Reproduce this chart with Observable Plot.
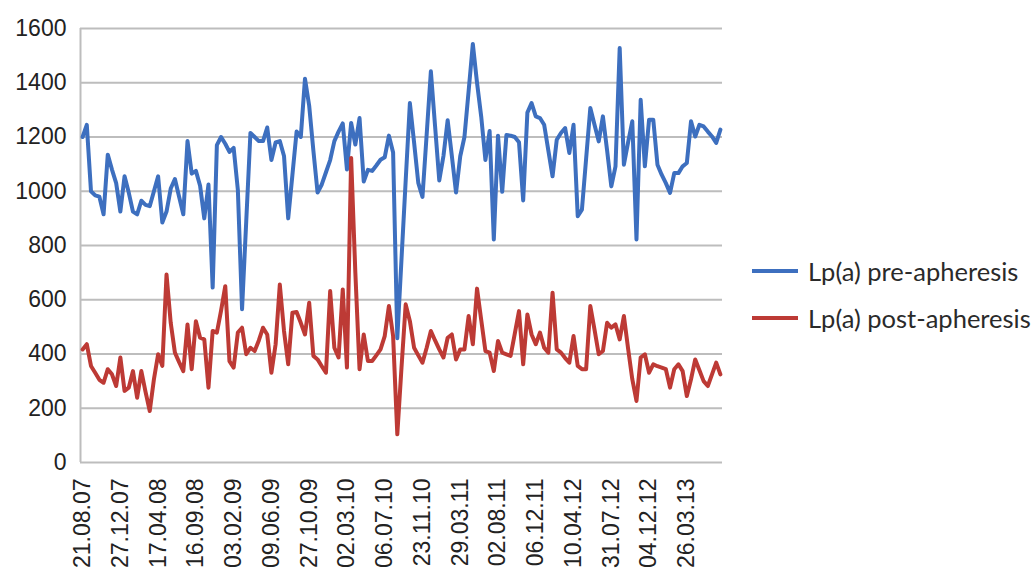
<!DOCTYPE html>
<html>
<head>
<meta charset="utf-8">
<script src="https://cdn.jsdelivr.net/npm/d3@7"></script>
<script src="https://cdn.jsdelivr.net/npm/@observablehq/plot@0.6"></script>
<style>
  html, body { margin: 0; padding: 0; background: #fff; overflow: hidden; }
  #wrap { position: relative; width: 1035px; height: 575px; overflow: hidden; }
  #chart { position: absolute; left: 0; top: 0; }
  #legend { position: absolute; left: 752px; top: 247px; font-family: "Lato", "Open Sans", sans-serif; font-size: 25.5px; color: #2a2a2a; white-space: nowrap; }
  .item { display: flex; align-items: center; height: 47px; }
  .sw { width: 46px; height: 4px; margin-right: 10px; }
</style>
</head>
<body>
<div id="wrap"><div id="chart"></div><div id="legend"></div></div>
<script>
const tickLabels = ["21.08.07","27.12.07","17.04.08","16.09.08","03.02.09","09.06.09","27.10.09","02.03.10","06.07.10","23.11.10","29.03.11","02.08.11","06.12.11","10.04.12","31.07.12","04.12.12","26.03.13"];
const labelEvery = 9;
const seriesNames = ["Lp(a) pre-apheresis", "Lp(a) post-apheresis"];
const seriesColors = ["#3d6fbf", "#bd3a35"];
const yTicks = [0, 200, 400, 600, 800, 1000, 1200, 1400, 1600];

const pre = [1200,1245,1000,985,980,915,1135,1080,1030,925,1055,995,925,915,965,950,945,1000,1055,885,
925,1010,1045,980,915,1185,1065,1075,1020,900,1025,645,1170,1200,1175,1145,1160,1005,565,890,
1215,1200,1185,1185,1235,1115,1180,1185,1130,900,1060,1220,1200,1415,1315,1150,995,1025,1070,1115,
1185,1220,1250,1080,1252,1172,1270,1036,1079,1075,1095,1116,1125,1205,1143,458,750,1040,1325,1180,
1031,979,1210,1442,1240,1040,1130,1262,1130,995,1129,1200,1370,1543,1400,1275,1115,1222,822,1205,
998,1207,1205,1200,1181,966,1290,1325,1276,1270,1245,1150,1055,1190,1215,1233,1141,1245,908,932,
1120,1307,1245,1184,1276,1150,1018,1092,1528,1098,1180,1258,822,1337,1092,1264,1264,1098,1061,1030,
994,1067,1067,1092,1104,1258,1202,1245,1239,1220,1202,1178,1227];

const post = [417,436,356,331,305,294,344,325,282,387,264,276,337,239,337,260,190,307,399,356,
693,515,405,370,337,509,344,521,460,454,276,485,479,560,650,374,350,479,497,399,
423,411,450,497,472,331,436,656,485,362,552,555,515,472,589,393,380,355,331,632,
423,387,638,350,1123,700,344,472,374,374,395,417,466,577,466,104,350,583,521,423,
395,368,423,485,450,417,387,460,472,380,417,417,540,436,641,525,411,405,337,448,
405,399,393,475,558,362,546,472,436,479,423,405,626,417,405,385,368,466,356,344,
344,577,490,399,411,515,497,509,454,540,420,307,227,387,399,331,362,355,350,344,
276,344,362,337,245,307,380,340,300,282,325,368,325];

const n = pre.length;
const preData = pre.map((v, i) => ({i, v}));
const postData = post.map((v, i) => ({i, v}));
const xTicks = tickLabels.map((_, k) => k * labelEvery);

const chart = Plot.plot({
  width: 740,
  height: 575,
  marginLeft: 80,
  marginRight: 18,
  marginTop: 28,
  marginBottom: 113,
  style: { fontFamily: "'Liberation Sans', Arial, sans-serif", fontSize: "23px", color: "#222", background: "#fff" },
  x: { domain: [-0.5, n - 0.5] },
  y: { domain: [0, 1600] },
  marks: [
    Plot.ruleY(yTicks, { stroke: "#bdbdbd", strokeWidth: 2 }),
    Plot.ruleX([-0.5], { stroke: "#bdbdbd", strokeWidth: 2 }),
    Plot.line(preData, { x: "i", y: "v", stroke: seriesColors[0], strokeWidth: 4, strokeLinejoin: "round" }),
    Plot.line(postData, { x: "i", y: "v", stroke: seriesColors[1], strokeWidth: 4, strokeLinejoin: "round" }),
    Plot.axisY({ ticks: yTicks, tickFormat: d => String(d), tickSize: 0, tickPadding: 14, label: null, fontSize: 23 }),
    Plot.axisX({ ticks: xTicks, tickFormat: d => tickLabels[d / labelEvery], tickSize: 0, tickPadding: 16, tickRotate: -90, label: null, fontSize: 23 })
  ]
});
document.getElementById("chart").appendChild(chart);

const legend = document.getElementById("legend");
seriesNames.forEach((name, k) => {
  const row = document.createElement("div");
  row.className = "item";
  const sw = document.createElement("div");
  sw.className = "sw";
  sw.style.background = seriesColors[k];
  const t = document.createElement("span");
  t.textContent = name;
  row.appendChild(sw);
  row.appendChild(t);
  legend.appendChild(row);
});
</script>
</body>
</html>
